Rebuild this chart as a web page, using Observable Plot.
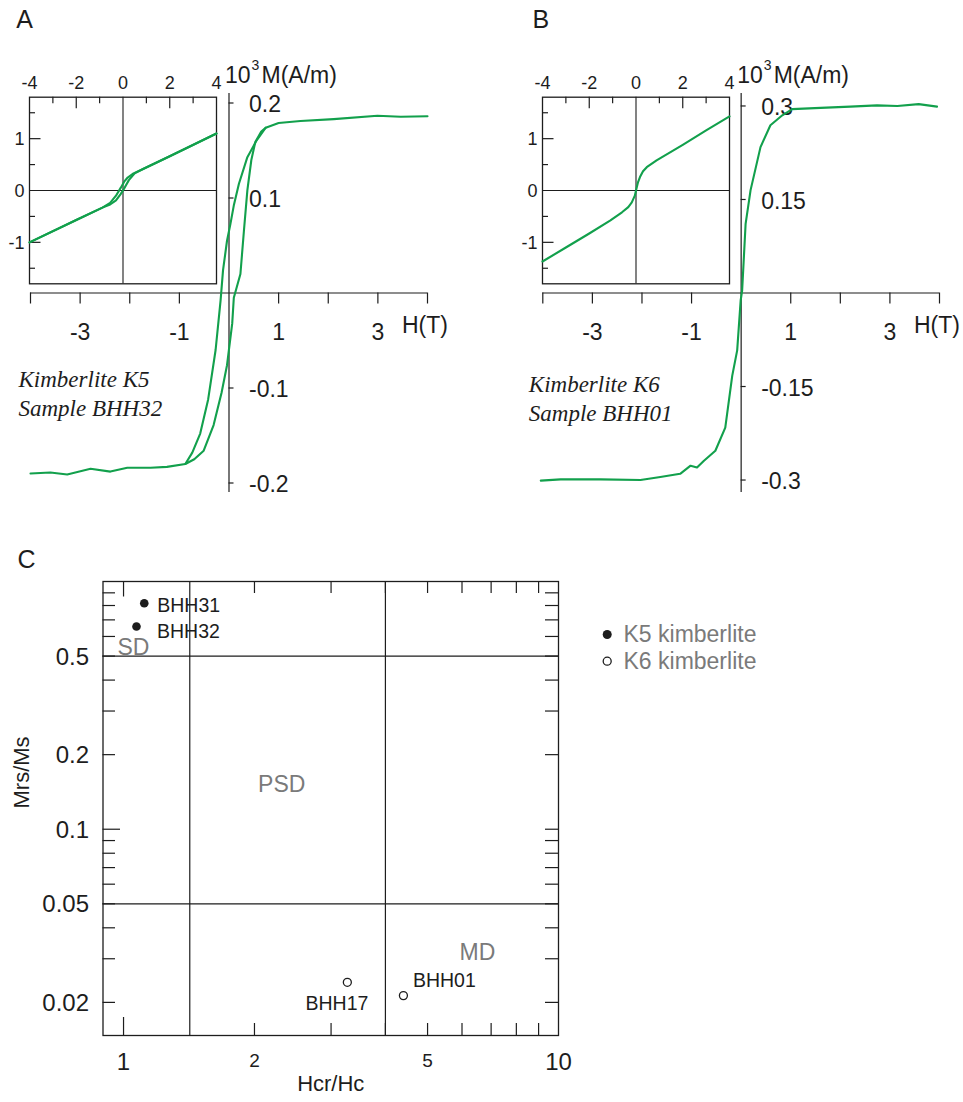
<!DOCTYPE html>
<html><head><meta charset="utf-8">
<script src="https://cdn.jsdelivr.net/npm/d3@7"></script>
<script src="https://cdn.jsdelivr.net/npm/@observablehq/plot@0.6"></script>
<style>
body{margin:0;background:#fff;}
#fig{position:relative;width:963px;height:1102px;background:#fff;overflow:hidden;}
#fig svg{position:absolute;overflow:visible;}
</style></head><body><div id="fig"></div>
<script>
// ---------- DATA ----------
// Panel A: Kimberlite K5, sample BHH32 — hysteresis loop [H (T), M (10^3 A/m)]
const k5Descending = [[4.0,0.186],[3.46,0.1855],[2.99,0.1865],[2.11,0.183],[1.44,0.181],[1.0,0.179],[0.74,0.174],[0.55,0.160],[0.37,0.143],[0.2,0.115],[0.1,0.093],[0.03,0.073],[-0.04,0.055],[-0.12,0.024],[-0.17,-0.008],[-0.27,-0.060],[-0.42,-0.112],[-0.58,-0.148],[-0.74,-0.168],[-0.88,-0.180],[-1.25,-0.183],[-1.58,-0.184],[-2.05,-0.184],[-2.39,-0.188],[-2.79,-0.185],[-3.26,-0.191],[-3.6,-0.189],[-4.0,-0.190]];
const k5Ascending = [[-0.88,-0.180],[-0.70,-0.175],[-0.51,-0.166],[-0.31,-0.139],[-0.15,-0.105],[-0.04,-0.076],[0.065,-0.032],[0.097,-0.005],[0.23,0.020],[0.30,0.065],[0.37,0.108],[0.45,0.140],[0.53,0.159],[0.65,0.170],[0.74,0.174]];
// Panel A inset (uncorrected loop)
const k5InsetDescending = [[4,1.1],[2,0.66],[0.88,0.42],[0.45,0.33],[0.2,0.25],[0.05,0.17],[-0.1,0.05],[-0.3,-0.1],[-0.55,-0.24],[-0.88,-0.33],[-2,-0.57],[-4,-1.0]];
const k5InsetAscending = [[-4,-1.0],[-2,-0.57],[-0.88,-0.33],[-0.55,-0.27],[-0.3,-0.19],[-0.1,-0.07],[0.05,0.04],[0.25,0.2],[0.5,0.33],[0.88,0.42],[2,0.66],[4,1.1]];
// Panel B: Kimberlite K6, sample BHH01
const k6Loop = [[-4.04,-0.301],[-3.64,-0.299],[-2.84,-0.299],[-2.03,-0.300],[-1.63,-0.295],[-1.23,-0.290],[-1.02,-0.277],[-0.89,-0.280],[-0.75,-0.269],[-0.52,-0.253],[-0.32,-0.216],[-0.18,-0.133],[-0.08,-0.092],[-0.01,-0.012],[0.02,0.004],[0.09,0.111],[0.19,0.165],[0.39,0.234],[0.59,0.269],[0.83,0.285],[1.03,0.295],[1.6,0.297],[2.2,0.299],[2.74,0.301],[3.15,0.300],[3.58,0.303],[3.95,0.299]];
const k6Inset = [[-4,-1.37],[-3,-1.10],[-2,-0.83],[-1.11,-0.58],[-0.6,-0.42],[-0.33,-0.32],[-0.18,-0.23],[-0.05,-0.1],[0,0],[0.08,0.15],[0.17,0.26],[0.3,0.37],[0.46,0.45],[0.88,0.58],[2,0.88],[3,1.16],[4,1.43]];

const mainXTicks = [-4,-3,-2,-1,1,2,3,4];
const mainXLabels = [-3,-1,1,3];
const k5YTicks = [0.2,0.1,-0.1,-0.2];
const k6YTicks = [0.3,0.15,-0.15,-0.3];
const insetXLabels = [-4,-2,0,2,4];
const insetXMajor = [-2,2];
const insetXMinor = [-3,-1,1,3];
const insetYLabels = [1,0,-1];
const insetYMajor = [1,-1];
const insetYMinor = [1.5,0.5,-0.5,-1.5];

// Panel C: Day plot
const samples = ["BHH31","BHH32","BHH17","BHH01"];
const kimberlite = ["K5","K5","K6","K6"];
const hcrHc = [1.116,1.071,3.27,4.40];
const mrsMs = [0.817,0.658,0.0241,0.0213];
const dayXTicks = [1,2,3,4,5,6,7,8,9];
const dayYTicks = [0.02,0.03,0.04,0.05,0.06,0.07,0.08,0.09,0.1,0.2,0.3,0.4,0.5,0.6,0.7,0.8,0.9];
const dayXLabelsLarge = [1,10];
const dayXLabelsSmall = [2,5];
const dayYLabels = [0.5,0.2,0.1,0.05,0.02];
const dayXBounds = [1.42,4];
const dayYBounds = [0.5,0.05];
const regions = ["SD","PSD","MD"];
const regionX = [1.054,2.31,6.51];
const regionY = [0.543,0.1516,0.0319];
const legendLabels = ["K5 kimberlite","K6 kimberlite"];

// ---------- STYLE ----------
const GREEN = "#12a04c";
const INK = "#1d1d1d";
const GREY = "#7a7a7a";
const SANS = "Liberation Sans";
const SERIF = "Liberation Serif";
const fig = document.getElementById("fig");
function place(svg, left, top){ svg.style.left = left+"px"; svg.style.top = top+"px"; fig.appendChild(svg); }
const xy = {x: d=>d[0], y: d=>d[1]};

function mainPanel({width, marginLeft, marginRight, ymax, loops, yTicks, letter, note, noteDx, noteDy, letterDx}) {
  return Plot.plot({
    width, height: 510, marginLeft, marginRight, marginTop: 93, marginBottom: 18,
    x: {domain: [-4,4], axis: null},
    y: {domain: [-ymax, ymax], axis: null},
    style: {background: "transparent", overflow: "visible", fontFamily: SANS},
    marks: [
      Plot.ruleY([0], {x1: ()=>-4, x2: ()=>4, stroke: INK, strokeWidth: 1.2}),
      Plot.ruleX([0], {stroke: INK, strokeWidth: 1.2}),
      Plot.ruleX(mainXTicks, {x: d=>d, y1: ()=>0, y2: ()=>0, insetBottom: -11, stroke: INK, strokeWidth: 1.2}),
      Plot.ruleY(yTicks, {y: d=>d, x1: ()=>0, x2: ()=>0, insetRight: -5, stroke: INK, strokeWidth: 1.2}),
      Plot.text(mainXLabels, {x: d=>d, y: ()=>0, text: d=>String(d), dy: 40, fontSize: 23, fontFamily: SANS, fill: INK}),
      Plot.text(yTicks, {x: ()=>0, y: d=>d, text: d=>String(d), dx: 20, dy: 2, textAnchor: "start", fontSize: 23, fontFamily: SANS, fill: INK}),
      Plot.text(["H(T)"], {x: ()=>4, y: ()=>0, dx: -25.5, dy: 33, textAnchor: "start", fontSize: 23, fontFamily: SANS, fill: INK}),
      Plot.text(["10"], {x: ()=>0, y: ()=>ymax, dx: -4, dy: -18, textAnchor: "start", fontSize: 23, fontFamily: SANS, fill: INK}),
      Plot.text(["3"], {x: ()=>0, y: ()=>ymax, dx: 22.5, dy: -28, textAnchor: "start", fontSize: 14, fontFamily: SANS, fill: INK}),
      Plot.text(["M(A/m)"], {x: ()=>0, y: ()=>ymax, dx: 32.5, dy: -18, textAnchor: "start", fontSize: 23, fontFamily: SANS, fill: INK}),
      Plot.text([note], {frameAnchor: "left", dx: noteDx, dy: noteDy, textAnchor: "start", lineHeight: 1.27, fontSize: 23, fontStyle: "italic", fontFamily: SERIF, fill: INK}),
      Plot.text([letter], {x: ()=>-4, y: ()=>ymax, dx: letterDx, dy: -74, fontSize: 25, fontFamily: SANS, fill: INK}),
      ...loops.map(l => Plot.line(l, {...xy, stroke: GREEN, strokeWidth: 2.1})),
    ]
  });
}

function insetPanel(loops) {
  return Plot.plot({
    width: 240, height: 300, marginLeft: 29, marginRight: 24, marginTop: 96.7, marginBottom: 16.7,
    x: {domain: [-4,4], axis: null},
    y: {domain: [-1.8,1.8], axis: null},
    style: {background: "transparent", overflow: "visible", fontFamily: SANS},
    marks: [
      Plot.frame({stroke: INK, strokeWidth: 1.3}),
      Plot.ruleX([0], {stroke: INK, strokeWidth: 1.1}),
      Plot.ruleY([0], {stroke: INK, strokeWidth: 1.1}),
      Plot.ruleX(insetXMajor, {x: d=>d, y1: ()=>1.8, y2: ()=>1.8, insetBottom: -11.5, stroke: INK, strokeWidth: 1.2}),
      Plot.ruleX(insetXMinor, {x: d=>d, y1: ()=>1.8, y2: ()=>1.8, insetBottom: -6.5, stroke: INK, strokeWidth: 1.2}),
      Plot.ruleY(insetYMajor, {y: d=>d, x1: ()=>-4, x2: ()=>-4, insetRight: -11.5, stroke: INK, strokeWidth: 1.2}),
      Plot.ruleY(insetYMinor, {y: d=>d, x1: ()=>-4, x2: ()=>-4, insetRight: -6, stroke: INK, strokeWidth: 1.2}),
      Plot.text(insetXLabels, {x: d=>d, y: ()=>1.8, text: d=>String(d), dy: -13.5, fontSize: 18, fontFamily: SANS, fill: INK}),
      Plot.text(insetYLabels, {x: ()=>-4, y: d=>d, text: d=>String(d), dx: -5, dy: 1, textAnchor: "end", fontSize: 18, fontFamily: SANS, fill: INK}),
      ...loops.map(l => Plot.line(l, {...xy, stroke: GREEN, strokeWidth: 2.1})),
    ]
  });
}

place(mainPanel({width: 480, marginLeft: 30, marginRight: 53, ymax: 0.21, loops: [k5Descending, k5Ascending], yTicks: k5YTicks,
  letter: "A", note: "Kimberlite K5\nSample BHH32", noteDx: -12, noteDy: 99, letterDx: -6}), 0, 0);
place(insetPanel([k5InsetDescending, k5InsetAscending]), 0, 0);
place(mainPanel({width: 453, marginLeft: 32.3, marginRight: 24, ymax: 0.32, loops: [k6Loop], yTicks: k6YTicks,
  letter: "B", note: "Kimberlite K6\nSample BHH01", noteDx: -14, noteDy: 104.5, letterDx: -2}), 510, 0);
place(insetPanel([k6Inset]), 513.3, 0);

// ---------- Panel C ----------
const XMIN = 0.897, YMIN = 0.0147;
const day = samples.map((s,i)=>({sample: s, group: kimberlite[i], x: hcrHc[i], y: mrsMs[i]}));
const labelPlacement = {BHH31: {dx: 13, dy: 3, a: "start"}, BHH32: {dx: 20.5, dy: 5, a: "start"}, BHH17: {dx: 21, dy: 21.5, a: "end"}, BHH01: {dx: 9.5, dy: -15, a: "start"}};
const regionData = regions.map((r,i)=>({r, x: regionX[i], y: regionY[i]}));
const pC = Plot.plot({
  width: 963, height: 562, marginLeft: 102.5, marginRight: 405, marginTop: 41, marginBottom: 67,
  x: {type: "log", domain: [XMIN, 10], axis: null},
  y: {type: "log", domain: [YMIN, 1], axis: null},
  style: {background: "transparent", overflow: "visible", fontFamily: SANS},
  marks: [
    Plot.frame({stroke: INK, strokeWidth: 1.3}),
    Plot.ruleY(dayYBounds, {y: d=>d, stroke: INK, strokeWidth: 1.2}),
    Plot.ruleX(dayXBounds, {x: d=>d, stroke: INK, strokeWidth: 1.2}),
    Plot.ruleY(dayYTicks.filter(d=>d!==0.1), {y: d=>d, x1: ()=>XMIN, x2: ()=>XMIN, insetRight: -12.5, stroke: INK, strokeWidth: 1.2}),
    Plot.ruleY([0.1], {y: d=>d, x1: ()=>XMIN, x2: ()=>XMIN, insetRight: -17.5, stroke: INK, strokeWidth: 1.2}),
    Plot.ruleY(dayYTicks, {y: d=>d, x1: ()=>10, x2: ()=>10, insetLeft: -13, stroke: INK, strokeWidth: 1.2}),
    Plot.ruleX(dayXTicks.filter(d=>d!==1), {x: d=>d, y1: ()=>YMIN, y2: ()=>YMIN, insetTop: -12, stroke: INK, strokeWidth: 1.2}),
    Plot.ruleX([1], {x: d=>d, y1: ()=>YMIN, y2: ()=>YMIN, insetTop: -18, stroke: INK, strokeWidth: 1.2}),
    Plot.ruleX(dayXTicks.filter(d=>d!==1), {x: d=>d, y1: ()=>1, y2: ()=>1, insetBottom: -12, stroke: INK, strokeWidth: 1.2}),
    Plot.ruleX([1], {x: d=>d, y1: ()=>1, y2: ()=>1, insetBottom: -15.5, stroke: INK, strokeWidth: 1.2}),
    Plot.text(dayYLabels, {x: ()=>XMIN, y: d=>d, text: d=>String(d), dx: -14, dy: 1, textAnchor: "end", fontSize: 24, fontFamily: SANS, fill: INK}),
    Plot.text(dayXLabelsLarge, {x: d=>d, y: ()=>YMIN, text: d=>String(d), dy: 27, fontSize: 24, fontFamily: SANS, fill: INK}),
    Plot.text(dayXLabelsSmall, {x: d=>d, y: ()=>YMIN, text: d=>String(d), dy: 25, fontSize: 19, fontFamily: SANS, fill: INK}),
    Plot.text(["Hcr/Hc"], {frameAnchor: "bottom", dy: 55, fontSize: 22, fontFamily: SANS, fill: INK}),
    Plot.text(["Mrs/Ms"], {frameAnchor: "left", dx: -81, rotate: -90, fontSize: 22, fontFamily: SANS, fill: INK}),
    Plot.text(regionData, {x: "x", y: "y", text: "r", fontSize: 23, fontFamily: SANS, fill: GREY}),
    Plot.dot(day.filter(d=>d.group==="K5"), {x: "x", y: "y", r: 4.3, fill: INK, stroke: "none"}),
    Plot.dot(day.filter(d=>d.group==="K6"), {x: "x", y: "y", r: 4, fill: "white", stroke: INK, strokeWidth: 1.3}),
    ...day.map(d => Plot.text([d], {x: "x", y: "y", text: "sample", dx: labelPlacement[d.sample].dx, dy: labelPlacement[d.sample].dy, textAnchor: labelPlacement[d.sample].a, fontSize: 19.5, fontFamily: SANS, fill: INK})),
    Plot.dot([legendLabels[0]], {x: ()=>10, y: ()=>1, dx: 48.7, dy: 53, r: 4.5, fill: INK, stroke: "none"}),
    Plot.dot([legendLabels[1]], {x: ()=>10, y: ()=>1, dx: 48.7, dy: 79.7, r: 4, fill: "white", stroke: INK, strokeWidth: 1.3}),
    Plot.text([legendLabels[0]], {x: ()=>10, y: ()=>1, text: d=>d, dx: 65, dy: 53, textAnchor: "start", fontSize: 23, fontFamily: SANS, fill: GREY}),
    Plot.text([legendLabels[1]], {x: ()=>10, y: ()=>1, text: d=>d, dx: 65, dy: 79.7, textAnchor: "start", fontSize: 23, fontFamily: SANS, fill: GREY}),
    Plot.text(["C"], {x: ()=>XMIN, y: ()=>1, dx: -76.5, dy: -22, fontSize: 25, fontFamily: SANS, fill: INK}),
  ]
});
place(pC, 0, 540);
</script></body></html>
